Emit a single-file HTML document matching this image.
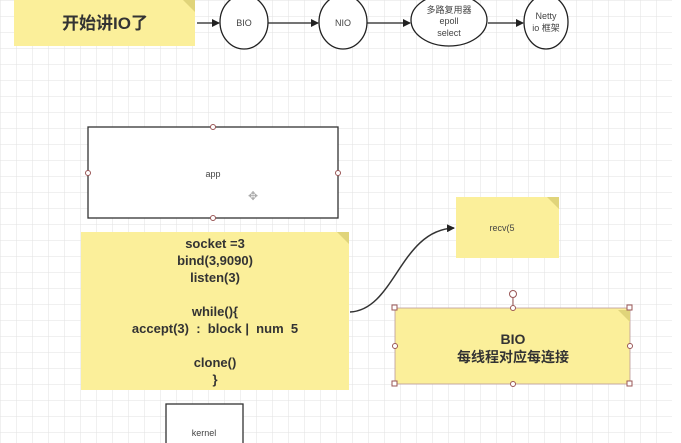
<!DOCTYPE html>
<html><head><meta charset="utf-8"><style>
body{margin:0;width:681px;height:443px;overflow:hidden;background:#fff;}
svg{display:block;font-family:"Liberation Sans","Noto Sans CJK SC",sans-serif;}
</style></head><body>
<svg width="681" height="443" viewBox="0 0 681 443" xmlns="http://www.w3.org/2000/svg">
<defs>
<pattern id="g" width="16" height="16" patternUnits="userSpaceOnUse"><path d="M16 0H0V16" fill="none" stroke="#e2e2e2" stroke-width="1"/></pattern>
<marker id="a" markerWidth="8" markerHeight="8" refX="7" refY="4" orient="auto" markerUnits="userSpaceOnUse"><path d="M0,0 L8,4 L0,8 z" fill="#222"/></marker>
</defs>
<rect width="672" height="443" fill="url(#g)"/>
<rect x="14" y="0" width="181" height="46" fill="#fbef9a"/>
<path d="M183 0 L195 0 L195 12 Z" fill="#e0d47a"/>
<text x="105" y="29" text-anchor="middle" font-size="17" font-weight="bold" fill="#333">开始讲IO了</text>
<g fill="none" stroke="#222" stroke-width="1.3">
<line x1="197" y1="23" x2="219" y2="23" marker-end="url(#a)"/>
<line x1="268" y1="23" x2="318" y2="23" marker-end="url(#a)"/>
<line x1="367" y1="23" x2="410" y2="23" marker-end="url(#a)"/>
<line x1="488" y1="23" x2="523" y2="23" marker-end="url(#a)"/>
<ellipse cx="244" cy="22" rx="24" ry="27" fill="#fff"/>
<ellipse cx="343" cy="22" rx="24" ry="27" fill="#fff"/>
<ellipse cx="449" cy="20" rx="38" ry="26" fill="#fff"/>
<ellipse cx="546" cy="22" rx="22" ry="27" fill="#fff"/>
</g>
<g font-size="9" fill="#444" text-anchor="middle">
<text x="244" y="26">BIO</text>
<text x="343" y="26">NIO</text>
<text x="449" y="13">多路复用器</text>
<text x="449" y="24">epoll</text>
<text x="449" y="36">select</text>
<text x="546" y="19">Netty</text>
<text x="546" y="31">io 框架</text>
</g>
<rect x="88" y="127" width="250" height="91" fill="#fff" stroke="#333" stroke-width="1.3"/>
<text x="213" y="177" text-anchor="middle" font-size="9" fill="#444">app</text>
<g fill="#fff" stroke="#955" stroke-width="1"><circle cx="213" cy="127" r="2.5"/><circle cx="213" cy="218" r="2.5"/><circle cx="88" cy="173" r="2.5"/><circle cx="338" cy="173" r="2.5"/></g>
<text x="253" y="200" text-anchor="middle" font-size="12" fill="#aaa">✥</text>
<rect x="81" y="232" width="268" height="158" fill="#fbef9a"/>
<path d="M337 232 L349 232 L349 244 Z" fill="#e0d47a"/>
<g font-size="13" font-weight="bold" fill="#333" text-anchor="middle">
<text x="215" y="248">socket =3</text>
<text x="215" y="265">bind(3,9090)</text>
<text x="215" y="282">listen(3)</text>
<text x="215" y="316">while(){</text>
<text x="215" y="333">accept(3) &#160;: &#160;block | &#160;num &#160;5</text>
<text x="215" y="367">clone()</text>
<text x="215" y="384">}</text>
</g>
<rect x="166" y="404" width="77" height="45" fill="#fff" stroke="#333" stroke-width="1.3"/>
<text x="204" y="436" text-anchor="middle" font-size="9" fill="#444">kernel</text>
<path d="M350 312 C 395 310, 400 230, 454 228" fill="none" stroke="#333" stroke-width="1.5" marker-end="url(#a)"/>
<rect x="456" y="197" width="103" height="61" fill="#fbef9a"/>
<path d="M547 197 L559 197 L559 209 Z" fill="#e0d47a"/>
<text x="502" y="231" text-anchor="middle" font-size="9" fill="#444">recv(5</text>
<rect x="395" y="308" width="235" height="76" fill="#fbef9a" stroke="#b99" stroke-width="0.8"/>
<path d="M618 310 L630 310 L630 322 Z" fill="#e0d47a"/>
<text x="513" y="344" text-anchor="middle" font-size="14" font-weight="bold" fill="#333">BIO</text>
<text x="513" y="362" text-anchor="middle" font-size="14" font-weight="bold" fill="#333">每线程对应每连接</text>
<line x1="513" y1="298" x2="513" y2="308" stroke="#955"/>
<g fill="#fff" stroke="#955" stroke-width="1">
<circle cx="513" cy="294" r="3.5"/>
<circle cx="513" cy="308" r="2.5"/><circle cx="513" cy="384" r="2.5"/><circle cx="395" cy="346" r="2.5"/><circle cx="630" cy="346" r="2.5"/>
<rect x="392" y="305" width="5" height="5"/><rect x="627" y="305" width="5" height="5"/><rect x="392" y="381" width="5" height="5"/><rect x="627" y="381" width="5" height="5"/>
</g>
</svg>
</body></html>
